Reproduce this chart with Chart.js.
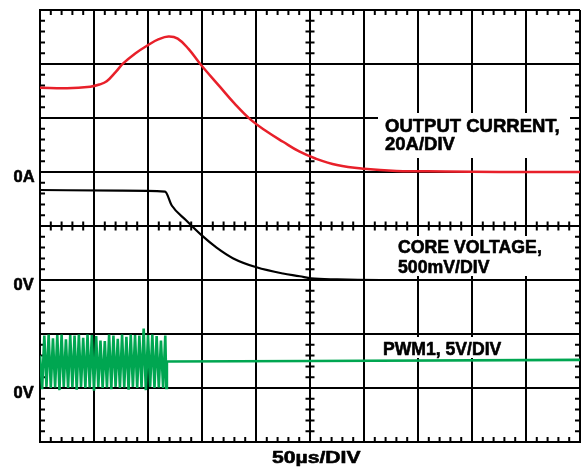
<!DOCTYPE html>
<html>
<head>
<meta charset="utf-8">
<script src="https://cdn.jsdelivr.net/npm/chart.js@4.4.1/dist/chart.umd.min.js"></script>
<style>
  html, body { margin: 0; padding: 0; background: #fff; }
  #wrap { width: 583px; height: 468px; }
</style>
</head>
<body>
<div id="wrap"><canvas id="scope" width="583" height="468"></canvas></div>
<script>
/* ------------------------------------------------------------
   Data (screen divisions: x 0..10, y 0..8 from bottom)
------------------------------------------------------------ */
// output current, 20A/DIV, 0A at y = 5
const currentT = [0, 0.5, 0.93, 1.1, 1.235, 1.4, 1.54, 1.77, 2.0, 2.2, 2.38, 2.55, 2.75, 2.96, 3.33, 3.6, 3.9, 4.2, 4.5, 4.8, 5.1, 5.5, 6.0, 6.6, 7.5, 8.5, 10];
const currentV = [6.56, 6.55, 6.58, 6.62, 6.68, 6.85, 7.01, 7.2, 7.35, 7.46, 7.51, 7.47, 7.28, 7.01, 6.58, 6.27, 5.97, 5.75, 5.56, 5.38, 5.25, 5.13, 5.06, 5.02, 5.01, 5.0, 5.0];

// core voltage, 500mV/DIV, 0V at y = 3
const coreT = [0, 1.5, 2.315, 2.44, 2.7, 2.99, 3.27, 3.58, 4.01, 4.5, 4.81, 5.02, 5.5, 6.3, 10];
const coreV = [4.667, 4.655, 4.635, 4.38, 4.11, 3.83, 3.60, 3.40, 3.235, 3.12, 3.07, 3.03, 3.01, 3.0, 3.0];

// PWM1, 5V/DIV, 0V at y = 1
const pwmT = [0, 0.04, 0.08, 0.12, 0.16, 0.20, 0.24, 0.28, 0.32, 0.36, 0.40, 0.44, 0.48, 0.52, 0.56, 0.60,
              0.64, 0.68, 0.72, 0.76, 0.80, 0.84, 0.88, 0.92, 0.96, 1.00, 1.04, 1.08, 1.12, 1.16, 1.20,
              1.24, 1.28, 1.32, 1.36, 1.40, 1.44, 1.48, 1.52, 1.56, 1.60, 1.64, 1.68, 1.72, 1.76, 1.80,
              1.84, 1.88, 1.92, 1.96, 2.00, 2.04, 2.08, 2.12, 2.16, 2.20, 2.24, 2.28, 2.32, 2.34, 2.35,
              5.0, 10];
const pwmV = [1.6, 0.98, 1.97, 1.02, 1.99, 1.0, 1.92, 1.01, 1.98, 0.96, 1.99, 1.02, 1.9, 1.0, 1.98, 1.01,
              1.97, 0.97, 1.99, 1.02, 1.93, 1.0, 1.99, 1.01, 1.98, 0.95, 1.96, 1.02, 1.88, 1.0, 1.87,
              1.01, 1.99, 0.98, 1.97, 1.02, 1.91, 1.0, 1.99, 1.01, 1.95, 0.97, 1.99, 1.02, 1.98, 1.0,
              1.97, 1.01, 2.1, 0.96, 1.98, 1.02, 1.99, 1.0, 1.96, 1.01, 1.88, 1.0, 1.97, 1.0, 1.49,
              1.5, 1.52];

// left-hand reference labels
const refLevels = [5, 3, 1];
const refLabels = ["0A", "0V", "0V"];
const timebaseLabel = "50\u00B5s/DIV";

/* ------------------------------------------------------------
   Annotation blocks (pixel layout)
------------------------------------------------------------ */
const notes = [
    { lines: ["OUTPUT CURRENT,", "20A/DIV"], x: 385, y: 131.7, lh: 18.5, size: 18.5, box: [378, 113, 570, 158] },
    { lines: ["CORE VOLTAGE,", "500mV/DIV"], x: 398, y: 252.7, lh: 20, size: 17.7, box: [392, 236, 553, 276] },
    { lines: ["PWM1, 5V/DIV"], x: 383, y: 355, lh: 0, size: 17.6, box: [375, 337, 513, 358] }
];

const toPoints = (t, v) => t.map((x, i) => ({ x: x, y: v[i] }));

// heavy bold text: fill plus a thin stroke
function boldText(ctx, s, x, y) {
    ctx.fillText(s, x, y);
    ctx.strokeText(s, x, y);
}

const scopeDecor = {
    id: "scopeDecor",
    beforeDatasetsDraw(chart) {
        const { ctx, chartArea: a, scales: { x, y } } = chart;
        ctx.save();

        // minor ticks on the frame and the centre cross
        ctx.strokeStyle = "#000";
        ctx.lineWidth = 2;
        ctx.beginPath();
        const cx = x.getPixelForValue(5);
        const cy = y.getPixelForValue(4);
        for (let k = 1; k < 50; k++) {
            const px = x.getPixelForValue(k * 0.2);
            ctx.moveTo(px, a.top); ctx.lineTo(px, a.top + 5);
            ctx.moveTo(px, a.bottom); ctx.lineTo(px, a.bottom - 5);
            ctx.moveTo(px, cy - 4.5); ctx.lineTo(px, cy + 4.5);
        }
        for (let k = 1; k < 40; k++) {
            const py = y.getPixelForValue(k * 0.2);
            ctx.moveTo(a.left, py); ctx.lineTo(a.left + 5, py);
            ctx.moveTo(a.right, py); ctx.lineTo(a.right - 5, py);
            ctx.moveTo(cx - 4.5, py); ctx.lineTo(cx + 4.5, py);
        }
        ctx.stroke();

        ctx.lineWidth = 0.6;
        ctx.lineJoin = "round";

        // annotation blocks with white backing
        notes.forEach(n => {
            ctx.fillStyle = "#fff";
            ctx.fillRect(n.box[0], n.box[1], n.box[2] - n.box[0], n.box[3] - n.box[1]);
            ctx.fillStyle = "#000";
            ctx.font = "bold " + n.size + "px 'Liberation Sans', Arial, sans-serif";
            ctx.textAlign = "left";
            ctx.textBaseline = "alphabetic";
            n.lines.forEach((s, i) => boldText(ctx, s, n.x, n.y + i * n.lh));
        });

        // reference levels on the left
        ctx.font = "bold 16.5px 'Liberation Sans', Arial, sans-serif";
        ctx.textAlign = "left";
        refLevels.forEach((lv, i) => {
            boldText(ctx, refLabels[i], 13.5, y.getPixelForValue(lv) + 9.5);
        });

        // timebase
        ctx.save();
        ctx.translate(272, 463.3);
        ctx.scale(1.28, 1);
        boldText(ctx, timebaseLabel, 0, 0);
        ctx.restore();

        ctx.restore();
    }
};

new Chart(document.getElementById("scope"), {
    type: "line",
    data: {
        datasets: [
            {
                data: toPoints(currentT, currentV),
                borderColor: "#e8202a",
                borderWidth: 2.5,
                pointRadius: 0,
                tension: 0.4
            },
            {
                data: toPoints(coreT, coreV),
                borderColor: "#000",
                borderWidth: 2.2,
                pointRadius: 0,
                cubicInterpolationMode: "monotone"
            },
            {
                data: toPoints(pwmT, pwmV),
                borderColor: "#00a651",
                borderWidth: 2.6,
                pointRadius: 0,
                tension: 0
            }
        ]
    },
    options: {
        responsive: false,
        animation: false,
        devicePixelRatio: 1,
        layout: { padding: { left: 40, right: 3, top: 10, bottom: 26 } },
        plugins: { legend: { display: false }, tooltip: { enabled: false } },
        scales: {
            x: {
                type: "linear", min: 0, max: 10,
                ticks: { display: false, stepSize: 1 },
                grid: { color: "#000", lineWidth: 2, drawTicks: false },
                border: { color: "#000", width: 2 }
            },
            y: {
                type: "linear", min: 0, max: 8,
                ticks: { display: false, stepSize: 1 },
                grid: { color: "#000", lineWidth: 2, drawTicks: false },
                border: { color: "#000", width: 2 }
            }
        }
    },
    plugins: [scopeDecor]
});
</script>
</body>
</html>
